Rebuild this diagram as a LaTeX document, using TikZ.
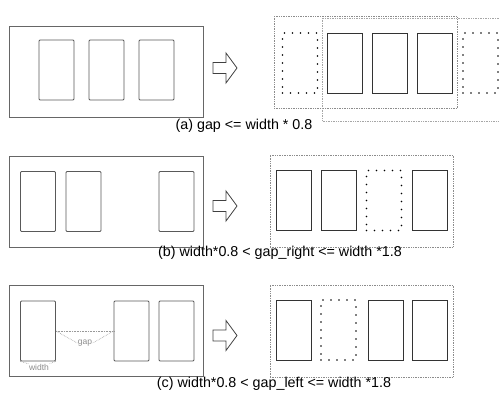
\documentclass[tikz,border=0pt]{standalone}
\usepackage{fontspec}
\setmainfont{Liberation Sans}
\begin{document}
\begin{tikzpicture}[x=1pt,y=-1pt,
  frameL/.style={draw=black!60,line width=0.8pt,minimum width=194pt,minimum height=91pt,inner sep=0pt},
  frameR/.style={draw=black!45,densely dotted,line width=0.7pt,minimum width=183pt,minimum height=92pt,inner sep=0pt},
  boxL/.style={draw=black!65,line width=0.8pt,rounded corners=1pt,minimum width=35pt,minimum height=60pt,inner sep=0pt},
  boxR/.style={draw=black!80,line width=0.8pt,minimum width=35pt,minimum height=60pt,inner sep=0pt},
  ghost/.style={draw=black,line width=1.7pt,line cap=round,dash pattern=on 0pt off 8pt,minimum width=35pt,minimum height=60pt,inner sep=0pt},
  captext/.style={font=\fontsize{14.3}{16}\selectfont,inner sep=0pt},
  note/.style={font=\fontsize{8.5}{9}\selectfont,text=black!45,inner sep=0.5pt},
  noteline/.style={draw=black!40,densely dotted,line width=0.6pt},
  bigarrow/.pic={\draw[draw=black!75,line width=0.8pt,line join=miter] (-12,-5.5) -- (1,-5.5) -- (1,-15) -- (12,0) -- (1,15) -- (1,5.5) -- (-12,5.5) -- cycle;}
]
\useasboundingbox (0,0) rectangle (499,394);

% ---------- (a) ----------
\node[frameL] (fa) at (106,71.5) {};
\node[boxL] (a1) at (56.5,70) {};
\node[boxL] (a2) at (106.5,70) {};
\node[boxL] (a3) at (156.5,70) {};
\pic at (225,68) {bigarrow};
\node[frameR] (fra) at (365.5,62.5) {};
\draw[draw=black!35,densely dotted,line width=0.7pt] (499,18) -- (322,18) -- (322,121) -- (499,121);
\node[ghost] (ra1) at (300,63) {};
\node[boxR] (ra2) at (344.5,63) {};
\node[boxR] (ra3) at (389.5,63) {};
\node[boxR] (ra4) at (435,63) {};
\node[ghost] (ra5) at (480.5,63) {};
\node[captext] (capa) at (244,125.5) {(a) gap <= width * 0.8};

% ---------- (b) ----------
\node[frameL] (fb) at (106,201.5) {};
\node[boxL] (b1) at (38,201.5) {};
\node[boxL] (b2) at (83.5,201.5) {};
\node[boxL] (b3) at (176.5,201.5) {};
\pic at (225,206) {bigarrow};
\node[frameR] (frb) at (361.5,201) {};
\node[boxR] (rb1) at (293.5,200.5) {};
\node[boxR] (rb2) at (338.5,200.5) {};
\node[ghost] (rb3) at (384,200.5) {};
\node[boxR] (rb4) at (429.5,200.5) {};
\node[captext] (capb) at (280,253) {(b) width*0.8 < gap\_right <= width *1.8};

% ---------- (c) ----------
\node[frameL] (fc) at (106,331) {};
\node[boxL] (c1) at (38,331) {};
\node[boxL] (c2) at (131.5,331) {};
\node[boxL] (c3) at (176.5,331) {};
\node[note] (gap) at (85,343) {gap};
\node[note] (wid) at (39,367.5) {width};
\draw[noteline] (c1.east) -- (c2.west);
\draw[noteline] (c1.east) -- (gap.west);
\draw[noteline] (c2.west) -- (gap.east);
\draw[noteline] (c1.south west) -- (wid.north west);
\draw[noteline] (c1.south east) -- (wid.north east);
\pic at (225,335.5) {bigarrow};
\node[frameR] (frc) at (361.5,331) {};
\node[boxR] (rc1) at (293.5,330) {};
\node[ghost] (rc2) at (338.5,330) {};
\node[boxR] (rc3) at (385.5,330) {};
\node[boxR] (rc4) at (429.5,330) {};
\node[captext] (capc) at (274,383.5) {(c) width*0.8 < gap\_left <= width *1.8};
\end{tikzpicture}
\end{document}
